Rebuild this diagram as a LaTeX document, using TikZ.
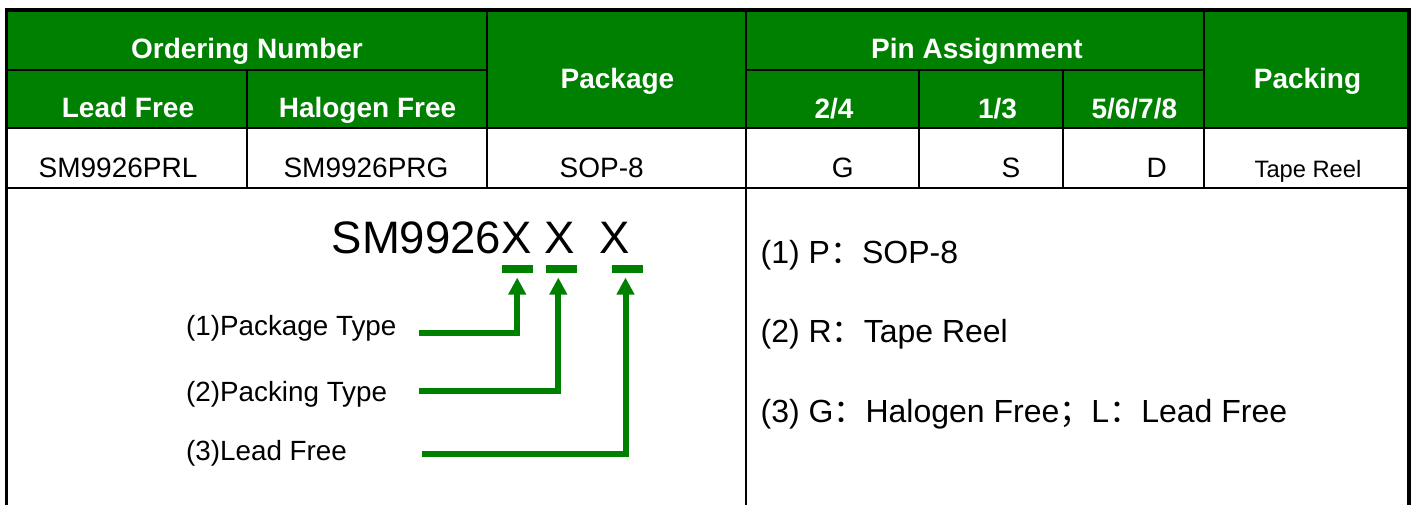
\documentclass[tikz,border=0pt]{standalone}
\usepackage{fontspec}
\setmainfont{Liberation Sans}
\newfontfamily\cjk{Noto Sans CJK SC}
\usetikzlibrary{arrows.meta}
\definecolor{sgreen}{RGB}{0,128,0}

\begin{document}
\begin{tikzpicture}[x=1pt,y=-1pt,
        hd/.style={anchor=base,inner sep=0,text=white,font=\fontsize{28}{32}\selectfont\bfseries},
        cell/.style={anchor=base,inner sep=0,font=\fontsize{28}{32}\selectfont},
        note/.style={anchor=base west,inner sep=0,font=\fontsize{27.8}{31}\selectfont},
        code/.style={anchor=base west,inner sep=0,font=\fontsize{32}{36}\selectfont},
        bar/.style={fill=sgreen,minimum width=31pt,minimum height=7.7pt,inner sep=0},
        lead/.style={draw=sgreen,line width=6pt,-{Triangle[width=17pt,length=17pt]},shorten >=4.7pt}]
        \useasboundingbox (0,0) rectangle (1416,504);
        \clip (0,0) rectangle (1416,504);

        \fill[sgreen] (6.7,9.8) rectangle (1409,128);
        \draw[line width=2pt] (6.7,70) -- (487,70) (746,70) -- (1204,70);
        \draw[line width=2pt] (6.7,128) -- (1409,128) (6.7,188) -- (1409,188);
        \draw[line width=2pt] (247,70) -- (247,188) (487,9.8) -- (487,188) (746,9.8) -- (746,530);
        \draw[line width=2pt] (919,70) -- (919,188) (1063,70) -- (1063,188) (1204,9.8) -- (1204,188);
        \draw[line width=3.5pt] (6.7,9.8) rectangle (1409,530);

        \node[hd] (ord) at (247,58.5) {Ordering Number};
        \node[hd] (lf) at (128,117.3) {Lead Free};
        \node[hd] (hf) at (367.5,117.3) {Halogen Free};
        \node[hd] (pkg) at (617.5,88.3) {Package};
        \node[hd] (pin) at (977,58.5) {Pin Assignment};
        \node[hd] (p24) at (834,118.3) {2/4};
        \node[hd] (p13) at (997.5,118.3) {1/3};
        \node[hd] (p58) at (1134.3,118.3) {5/6/7/8};
        \node[hd] (pck) at (1307.5,88.3) {Packing};

        \node[cell] (prl) at (118,177) {SM9926PRL};
        \node[cell] (prg) at (366,177) {SM9926PRG};
        \node[cell] (sop) at (601.7,177) {SOP-8};
        \node[cell] (g) at (842.7,177) {G};
        \node[cell] (s) at (1011,177) {S};
        \node[cell] (d) at (1156.7,177) {D};
        \node[cell,font=\fontsize{23.7}{27}\selectfont] (tr) at (1308,177) {Tape Reel};

        \node[anchor=base west,inner sep=0,font=\fontsize{45.5}{50}\selectfont] (pn) at (331.5,253) {SM9926X X\ \ X};
        \node[bar] (b1) at (517.2,268.8) {};
        \node[bar] (b2) at (561.7,268.8) {};
        \node[bar] (b3) at (627.7,268.8) {};

        \node[note] (n1) at (186,335) {(1)Package Type};
        \node[note] (n2) at (186,401) {(2)Packing Type};
        \node[note] (n3) at (186,460.5) {(3)Lead Free};
        \coordinate (s1) at (419.3,332.5);
        \coordinate (s2) at (419.3,391);
        \coordinate (s3) at (421.7,453.5);
        \draw[lead] (s1) -| (b1.south);
        \draw[lead] (s2) -| ([xshift=-3.4pt]b2.south);
        \draw[lead] (s3) -| ([xshift=-2.2pt]b3.south);

        \node[code] (c1) at (760.5,263) {(1) P{\cjk ：}SOP-8};
        \node[code] (c2) at (760.5,342) {(2) R{\cjk ：}Tape Reel};
        \node[code] (c3) at (760.5,422) {(3) G{\cjk ：}Halogen Free{\cjk ；}L{\cjk ：}Lead Free};
    \end{tikzpicture}
\end{document}
